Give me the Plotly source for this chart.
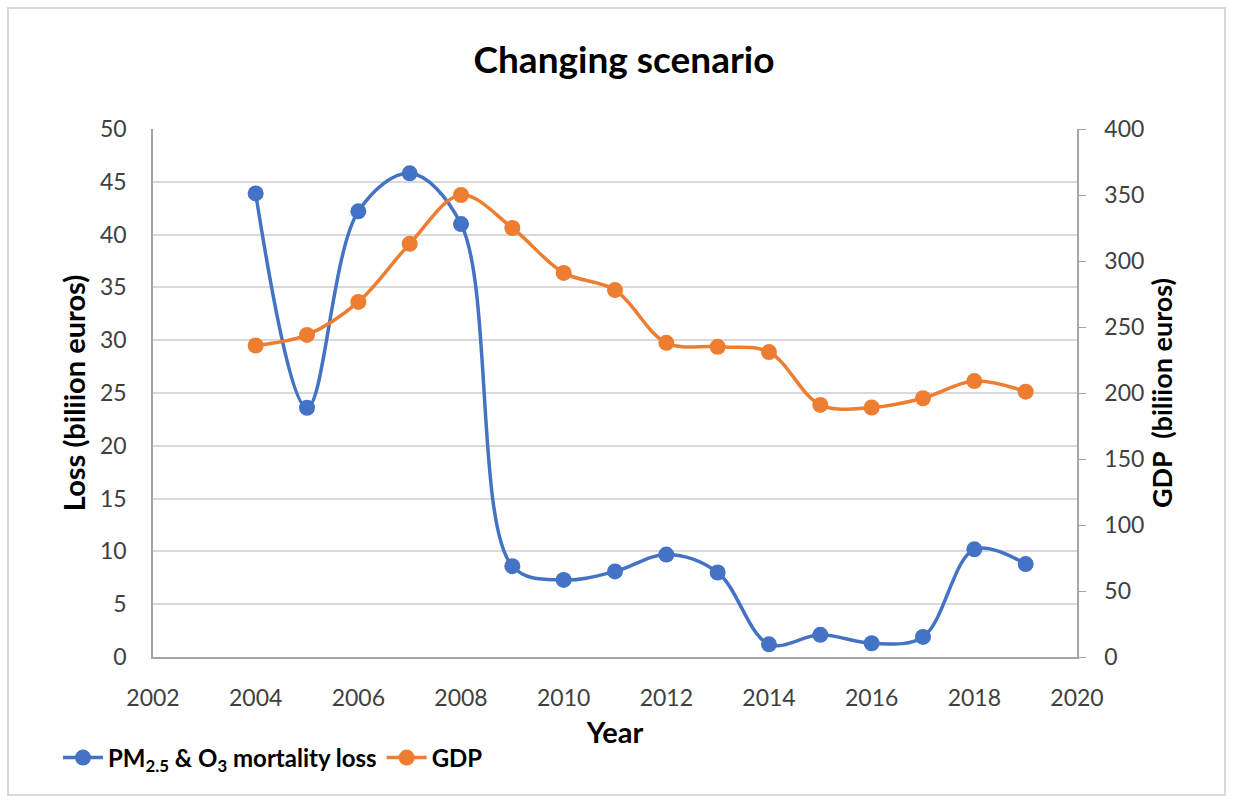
import plotly.graph_objects as go

# Data
years = list(range(2004, 2020))
mortality_loss = [43.9, 23.6, 42.2, 45.8, 41.0, 8.6, 7.3, 8.1, 9.7, 8.0, 1.2, 2.1, 1.3, 1.9, 10.2, 8.8]
gdp = [236, 244, 269, 313, 350, 325, 291, 278, 238, 235, 231, 191, 189, 196, 209, 201]

left_ticks = list(range(0, 51, 5))
right_ticks = list(range(0, 401, 50))
x_ticks = list(range(2002, 2021, 2))

BLUE = "#4472C4"
ORANGE = "#ED7D31"
GRID = "#D9D9D9"
AXIS = "#A6A6A6"
TEXT = "#404040"
FONT = "Lato"

fig = go.Figure()

fig.add_trace(go.Scatter(
    x=years, y=mortality_loss,
    name="PM<sub>2.5</sub> & O<sub>3</sub> mortality loss",
    mode="lines+markers",
    line=dict(color=BLUE, width=3.5, shape="spline", smoothing=1.0),
    marker=dict(color=BLUE, size=16),
    yaxis="y",
))

fig.add_trace(go.Scatter(
    x=years, y=gdp,
    name="GDP",
    mode="lines+markers",
    line=dict(color=ORANGE, width=3.5, shape="spline", smoothing=1.0),
    marker=dict(color=ORANGE, size=16),
    yaxis="y2",
))

W, H = 1233, 803
L, R, T, B = 153, 156, 129, 146
pw, ph = W - L - R, H - T - B

def px_x(p):
    return (p - L) / pw

def px_y(p):
    return (H - B - p) / ph

fig.update_layout(
    width=W, height=H,
    margin=dict(l=L, r=R, t=T, b=B),
    paper_bgcolor="white",
    plot_bgcolor="white",
    font=dict(family=FONT, color=TEXT, size=23),
    title=dict(
        text="<b>Changing scenario</b>",
        x=624 / W, xanchor="center",
        y=1 - 60 / H, yanchor="middle",
        font=dict(size=37, color="black", family=FONT),
    ),
    xaxis=dict(
        range=[2002, 2020],
        tickvals=x_ticks,
        ticktext=[str(v) for v in x_ticks],
        showgrid=False,
        showline=True, linecolor=AXIS, linewidth=1.5,
        ticks="", ticklabelstandoff=20,
        tickfont=dict(size=23, color=TEXT),
        title=dict(text="<b>Year</b>", font=dict(size=29, color="black"), standoff=12),
        zeroline=False,
    ),
    yaxis=dict(
        range=[0, 50],
        tickvals=left_ticks,
        showgrid=True, gridcolor=GRID, gridwidth=2,
        showline=True, linecolor=AXIS, linewidth=1.5,
        ticks="", ticklabelstandoff=20,
        tickfont=dict(size=23, color=TEXT),
        title=dict(text="<b>Loss (biliion euros)</b>", font=dict(size=29, color="black"), standoff=6),
        zeroline=False,
    ),
    yaxis2=dict(
        range=[0, 400],
        tickvals=right_ticks,
        overlaying="y", side="right",
        showgrid=False,
        showline=True, linecolor=AXIS, linewidth=1.5,
        ticks="outside", ticklen=7, tickcolor=AXIS,
        ticklabelstandoff=14,
        tickfont=dict(size=23, color=TEXT),
        title=dict(text="<b>GDP  (biliion euros)</b>", font=dict(size=27, color="black"), standoff=10),
        zeroline=False,
    ),
    legend=dict(
        orientation="h",
        x=px_x(58), xanchor="left",
        y=px_y(758), yanchor="middle",
        font=dict(size=24, color="black", weight="bold"),
        bgcolor="rgba(0,0,0,0)",
        itemwidth=40,
        tracegroupgap=0,
    ),
    shapes=[
        dict(
            type="rect", xref="paper", yref="paper",
            x0=px_x(8), x1=px_x(1225), y0=px_y(795), y1=px_y(8),
            line=dict(color="#D9D9D9", width=2),
            fillcolor="rgba(0,0,0,0)",
            layer="below",
        )
    ],
)

fig.write_html("out.html")
